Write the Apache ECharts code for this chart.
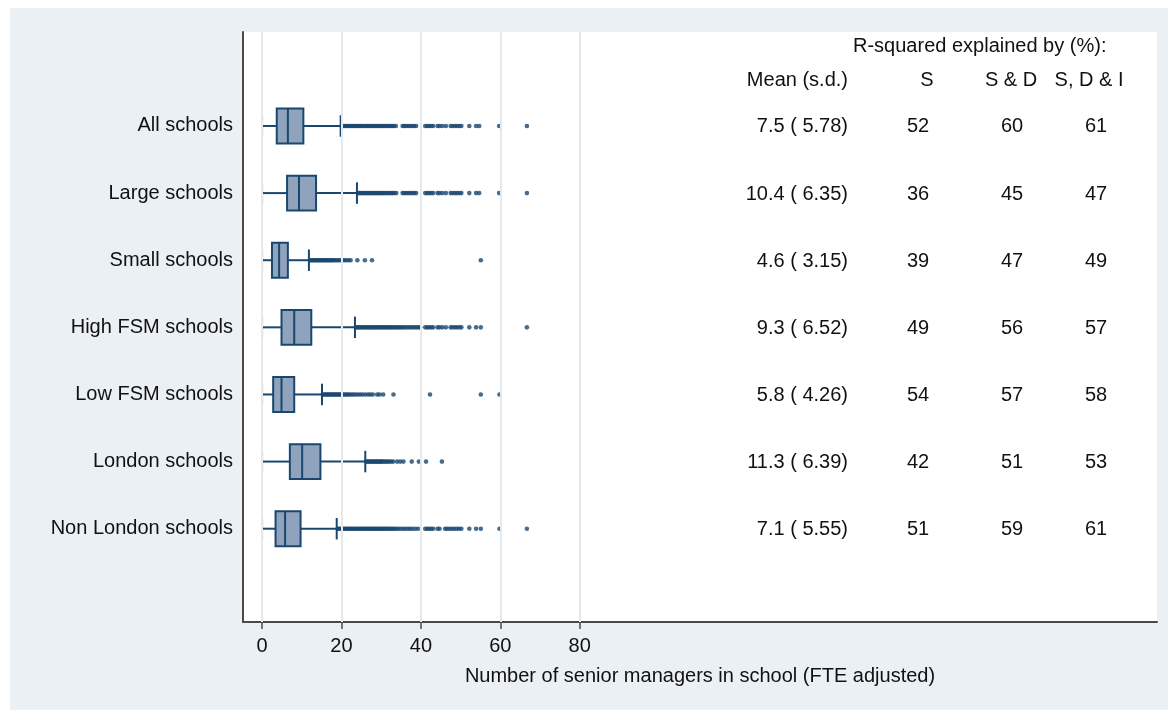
<!DOCTYPE html>
<html><head><meta charset="utf-8">
<script src="https://cdn.jsdelivr.net/npm/echarts@6/dist/echarts.min.js"></script>
<style>html,body{margin:0;padding:0;background:#fff}#c{width:1168px;height:710px}</style>
</head><body><div id="c"></div>
<script>
// ---------- data ----------
const categories = ['All schools','Large schools','Small schools','High FSM schools','Low FSM schools','London schools','Non London schools'];
// [lower whisker, Q1, median, Q3, upper whisker]
const boxAll    = [0, 3.7, 6.5, 10.4, 19.8];
const boxLarge  = [0, 6.3, 9.3, 13.6, 23.9];
const boxSmall  = [0, 2.5, 4.3, 6.5, 11.8];
const boxHigh   = [0, 4.9, 8.1, 12.4, 23.4];
const boxLow    = [0, 2.8, 4.9, 8.1, 15.1];
const boxLondon = [0, 7.0, 10.1, 14.7, 26.0];
const boxNonLon = [0, 3.4, 5.8, 9.7, 18.8];

const outAll = [20.1,20.5,20.8,21.2,21.5,21.9,22.2,22.6,23,23.3,23.7,24,24.4,24.7,25.1,25.4,25.8,26.2,26.5,26.9,27.2,27.6,27.9,28.3,28.7,29,29.4,29.7,30.1,30.5,30.8,31.2,31.6,32,32.4,32.8,33.2,33.7,35.4,35.8,36.3,36.8,37.3,37.8,38.3,38.8,41.1,41.6,42.1,42.6,43.1,44.2,44.7,45.4,46.3,47.5,48,48.6,49.1,49.7,50.2,52.2,53.9,54.7,59.7,66.7];
const outLarge = [24.2,24.5,24.9,25.2,25.6,25.9,26.3,26.6,27,27.3,27.7,28,28.4,28.7,29.1,29.4,29.8,30.1,30.5,30.9,31.3,31.7,32.1,32.5,32.9,33.3,33.8,35.4,35.8,36.3,36.8,37.3,37.8,38.3,38.8,41.1,41.6,42.1,42.6,43.1,44.2,44.7,45.4,46.3,47.5,48,48.6,49.1,49.7,50.2,52.2,53.9,54.7,59.7,66.7];
const outSmall = [12.1,12.4,12.7,13,13.3,13.6,13.9,14.2,14.5,14.8,15.1,15.4,15.7,16,16.3,16.6,16.9,17.2,17.5,17.8,18.1,18.5,18.9,19.3,19.7,20.2,20.7,21.2,21.8,22.3,24,25.9,27.7,55.1];
const outHigh  = [23.6,23.9,24.3,24.6,25,25.3,25.7,26,26.4,26.7,27.1,27.4,27.8,28.1,28.5,28.8,29.2,29.5,29.9,30.2,30.6,30.9,31.3,31.6,32,32.3,32.7,33,33.4,33.8,34.2,34.6,35,35.4,35.9,36.4,36.9,37.4,37.9,38.4,38.9,39.4,39.8,41.1,41.6,42.1,42.6,43.1,44.2,44.7,45.4,46.3,47.5,48,48.6,49.1,49.7,50.2,52.2,53.9,55.1,66.7];
const outLow   = [15.3,15.6,15.9,16.2,16.5,16.8,17.1,17.4,17.7,18,18.3,18.6,18.9,19.2,19.5,19.8,20.1,20.4,20.8,21.2,21.6,22,22.5,23,23.5,24.1,24.7,25.3,26,26.7,27.3,27.9,29,29.6,30.5,33.1,42.3,55.1,59.8];
const outLondon= [26.2,26.5,26.8,27.1,27.4,27.7,28,28.3,28.6,28.9,29.2,29.5,29.8,30.1,30.4,30.8,31.2,31.6,32,32.5,33,34,34.8,35.6,37.7,39.5,41.3,45.3];
const outNonLon= [19.1,19.4,19.8,20.1,20.5,20.8,21.2,21.5,21.9,22.2,22.6,22.9,23.3,23.6,24,24.3,24.7,25,25.4,25.7,26.1,26.4,26.8,27.1,27.5,27.8,28.2,28.5,28.9,29.2,29.6,29.9,30.3,30.6,31,31.3,31.7,32.1,32.5,32.9,33.3,33.8,34.3,34.9,35.5,36.1,36.7,37.3,37.9,38.6,39.3,41.1,41.6,42.1,42.6,43.1,44.2,44.7,46.1,46.6,47.2,47.8,48.4,49,49.6,50.2,52.2,53.9,55.1,59.8,66.7];

const meanSd = ['7.5 ( 5.78)','10.4 ( 6.35)','4.6 ( 3.15)','9.3 ( 6.52)','5.8 ( 4.26)','11.3 ( 6.39)','7.1 ( 5.55)'];
const r2S   = [52,36,39,49,54,42,51];
const r2SD  = [60,45,47,56,57,51,59];
const r2SDI = [61,47,49,57,58,53,61];
const tableTitle = 'R-squared explained by (%):';
const tableHeaders = ['Mean (s.d.)','S','S & D','S, D & I'];
const xTicks = [0,20,40,60,80];
const xTitle = 'Number of senior managers in school (FTE adjusted)';

// ---------- build ----------
const boxes = [boxAll, boxLarge, boxSmall, boxHigh, boxLow, boxLondon, boxNonLon];
const outs  = [outAll, outLarge, outSmall, outHigh, outLow, outLondon, outNonLon];
const FONT = '"Liberation Sans",Arial,sans-serif';
const FS = 20;
const NAVY = '#1a476f', FILL = '#8fa4bc', TXT = '#111';

const boxData = boxes.map((s,i)=>[i].concat(s));
const outData = [];
outs.forEach((arr,i)=>arr.forEach(v=>outData.push([v,i])));
const rowIdx = categories.map((c,i)=>i);

const chart = echarts.init(document.getElementById('c'), null, {renderer:'canvas'});
chart.setOption({
  animation:false,
  backgroundColor:'#eaf0f4',
  grid:{left:243,right:11,top:32,bottom:88,show:true,backgroundColor:'#ffffff',borderWidth:0},
  xAxis:{
    type:'value', min:-4.8, max:225.4,
    axisLine:{show:true,onZero:false,lineStyle:{color:'#4a4a4a',width:2}},
    axisTick:{show:true,customValues:xTicks,length:7,lineStyle:{color:'#4a4a4a',width:1.5}},
    axisLabel:{customValues:xTicks,color:TXT,fontFamily:FONT,fontSize:FS,margin:14},
    splitLine:{show:false},
    name:xTitle, nameLocation:'middle', nameGap:44,
    nameTextStyle:{color:TXT,fontFamily:FONT,fontSize:FS}
  },
  yAxis:{
    type:'value', inverse:true, min:-1.4, max:7.39,
    axisLine:{show:true,onZero:false,lineStyle:{color:'#4a4a4a',width:2}},
    axisTick:{show:false}, splitLine:{show:false},
    axisLabel:{customValues:rowIdx,formatter:v=>categories[Math.round(v)],color:TXT,fontFamily:FONT,fontSize:FS,margin:10}
  },
  series:[
    {type:'line',data:[],z:0,silent:true,
     markLine:{silent:true,symbol:'none',label:{show:false},animation:false,
       lineStyle:{color:'#e6e9ec',width:2,type:'solid'},
       data:xTicks.map(v=>({xAxis:v}))}},
    {type:'custom',z:3,data:boxData,encode:{x:[1,2,3,4,5],y:0},
     renderItem:function(params,api){
       const i=api.value(0);
       const p=[1,2,3,4,5].map(k=>api.coord([api.value(k),i]));
       const y=p[0][1];
       const band=api.size([0,1])[1];
       const hb=band*0.26, hc=band*0.16;
       const st={stroke:NAVY,lineWidth:2,fill:null};
       return {type:'group',children:[
         {type:'line',shape:{x1:p[0][0],y1:y,x2:p[1][0],y2:y},style:st},
         {type:'line',shape:{x1:p[3][0],y1:y,x2:p[4][0],y2:y},style:st},
         {type:'line',shape:{x1:p[0][0],y1:y-hc,x2:p[0][0],y2:y+hc},style:st},
         {type:'line',shape:{x1:p[4][0],y1:y-hc,x2:p[4][0],y2:y+hc},style:st},
         {type:'rect',shape:{x:p[1][0],y:y-hb,width:p[3][0]-p[1][0],height:2*hb},style:{fill:FILL,stroke:NAVY,lineWidth:2}},
         {type:'line',shape:{x1:p[2][0],y1:y-hb,x2:p[2][0],y2:y+hb},style:st}
       ]};
     }},
    {type:'scatter',z:2,data:outData,symbol:'circle',symbolSize:4.6,itemStyle:{color:NAVY},silent:true}
  ]
});

// table text
const g = [];
g.push({type:'rect',z:-5,shape:{x:0,y:0,width:1168,height:8},style:{fill:'#fff'}});
g.push({type:'rect',z:-5,shape:{x:0,y:0,width:10,height:710},style:{fill:'#fff'}});
function txt(t,x,y,align){
  return {type:'text',z:10,style:{text:String(t),x:x,y:y,fill:TXT,fontFamily:FONT,fontSize:FS,align:align,verticalAlign:'middle'}};
}
g.push(txt(tableTitle,853,46,'left'));
g.push(txt(tableHeaders[0],848,80,'right'));
g.push(txt(tableHeaders[1],927,80,'center'));
g.push(txt(tableHeaders[2],1011,80,'center'));
g.push(txt(tableHeaders[3],1089,80,'center'));
categories.forEach((c,i)=>{
  const y = chart.convertToPixel({yAxisIndex:0}, i) + 1;
  g.push(txt(meanSd[i],848,y,'right'));
  g.push(txt(r2S[i],918,y,'center'));
  g.push(txt(r2SD[i],1012,y,'center'));
  g.push(txt(r2SDI[i],1096,y,'center'));
});
chart.setOption({graphic:g});
</script></body></html>
